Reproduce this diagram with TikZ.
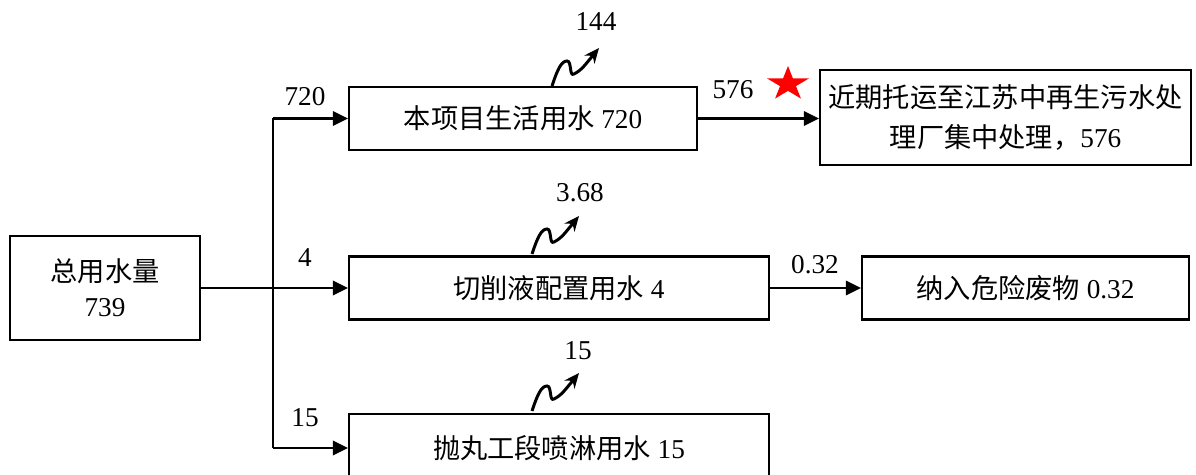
\documentclass[tikz,border=0pt]{standalone}
\usepackage{fontspec}
\setmainfont{Liberation Serif}
\newfontfamily\cjk{Noto Sans CJK SC}
\usetikzlibrary{arrows.meta}
\tikzset{
  box/.style={draw, line width=1.2pt, inner sep=0pt, font=\fontsize{15.5}{19}\selectfont, align=center},
  conn/.style={line width=1.6pt},
  arr/.style={line width=1.6pt, -{Triangle[length=0.3cm,width=0.28cm]}},
  wave/.style={line width=1.7pt, -{Stealth[length=0.3cm,width=0.26cm]}},
  lbl/.style={font=\fontsize{15.5}{19}\selectfont, inner sep=0pt}
}
\begin{document}
\begin{tikzpicture}[x=0.02cm,y=-0.02cm]
\useasboundingbox (0,0) rectangle (1196,475);
\node[box, minimum width=3.8cm, minimum height=2.08cm, font=\fontsize{15.5}{20}\selectfont] (b0) at (105,288) {{\cjk 总用水量}\\739};
\node[box, minimum width=6.96cm, minimum height=1.26cm] (b1) at (523,118.5) {{\cjk 本项目生活用水} 720};
\node[box, minimum width=7.42cm, minimum height=1.9cm, font=\fontsize{15.5}{23}\selectfont] (b2) at (1005.5,117.5) {{\cjk 近期托运至江苏中再生污水处}\\{\cjk 理厂集中处理，}576};
\node[box, minimum width=8.4cm, minimum height=1.26cm] (b3) at (559,288) {{\cjk 切削液配置用水} 4};
\node[box, minimum width=6.54cm, minimum height=1.26cm] (b4) at (1025.5,288) {{\cjk 纳入危险废物} 0.32};
\node[box, minimum width=8.4cm, minimum height=1.36cm] (b5) at (559,448) {{\cjk 抛丸工段喷淋用水} 15};
% trunk
\coordinate (j) at (273,288);
\coordinate (jt) at (273,118.5);
\coordinate (jb) at (273,448);
\draw[conn] (b0.east) -- (j);
\draw[conn] (jt) -- (jb);
\draw[arr] (jt) -- (b1.west);
\draw[arr] (j) -- (b3.west);
\draw[arr] (jb) -- (b5.west);
\draw[arr] (b1.east) -- (b2.west |- b1.east);
\draw[arr] (b3.east) -- (b4.west);
% labels
\node[lbl] (l720) at (305,97) {720};
\node[lbl] (l4) at (305,258) {4};
\node[lbl] (l15) at (305,418) {15};
\node[lbl] (l576) at (733,90) {576};
\node[lbl] (l032) at (815,265) {0.32};
\node[lbl] (l144) at (596,22) {144};
\node[lbl] (l368) at (580,193) {3.68};
\node[lbl] (l15b) at (578,351) {15};
% wavy arrows
\coordinate (w1) at (552,86);
\coordinate (w2) at (532,254);
\coordinate (w3) at (532,411);
\foreach \w in {w1,w2,w3}{
  \draw[wave] (\w) .. controls +(5,-15) and +(-6,0) .. ++(15,-25)
     .. controls +(5,0) and +(-5,3) .. ++(7,13)
     .. controls +(7,-4) .. ++(25,-26);
}
% star
\begin{scope}[shift={(788,84)}]
\fill[red, xscale=22, yscale=-18] (90:1) -- (126:0.382) -- (162:1) -- (198:0.382) -- (234:1) -- (270:0.382) -- (306:1) -- (342:0.382) -- (18:1) -- (54:0.382) -- cycle;
\end{scope}
\end{tikzpicture}
\end{document}
